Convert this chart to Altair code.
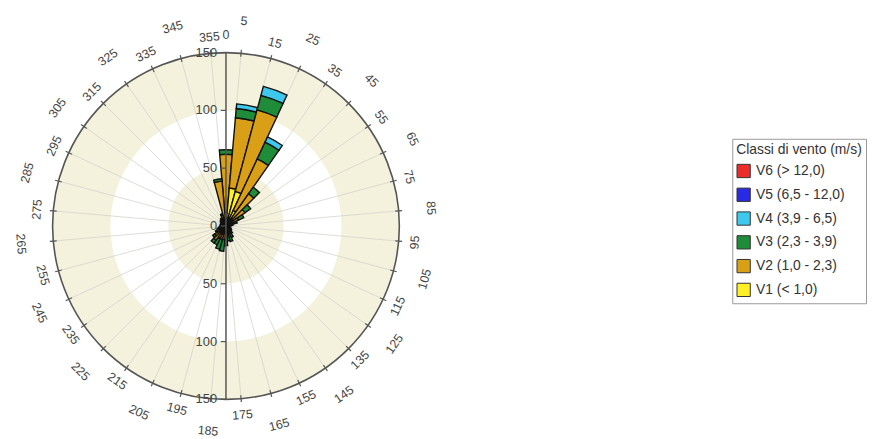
import altair as alt
import pandas as pd

# ---------------- data ----------------
angles = list(range(0, 360, 10))  # sector centres (deg)
v1 = [12, 33, 31, 15, 8, 5, 3, 2, 1, 1, 1, 1, 1, 1, 1, 1, 2, 2,
      3, 4, 4, 4, 5, 4, 3, 3, 2, 2, 2, 2, 2, 2, 3, 3, 4, 6]
v2 = [50, 61, 73, 49, 26, 15, 9, 5, 3, 2, 2, 2, 2, 3, 3, 4, 5, 5,
      6, 8, 8, 8, 10, 8, 6, 4, 3, 3, 3, 3, 3, 4, 4, 5, 6, 33]
v3 = [4, 8, 13, 16, 7, 6, 5, 3, 2, 1, 1, 1, 2, 2, 4, 6, 7, 6,
      8, 10, 9, 6, 3, 2, 1, 1, 1, 0, 0, 0, 0, 0, 0, 0, 1, 2]
v4 = [0, 4, 8, 5, 0, 0, 0, 0, 0, 0, 0, 0, 0, 0, 0, 0, 0, 0,
      0, 0, 0, 0, 0, 0, 0, 0, 0, 0, 0, 0, 0, 0, 0, 0, 0, 0]
v5 = [0] * 36
v6 = [0] * 36

class_labels = ["V6 (> 12,0)", "V5 (6,5 - 12,0)", "V4 (3,9 - 6,5)",
                "V3 (2,3 - 3,9)", "V2 (1,0 - 2,3)", "V1 (< 1,0)"]
class_colors = ["#ee2b2b", "#2a2ae6", "#3ec8ee", "#1f8c3a", "#d9a017", "#fff026"]
legend_title = "Classi di vento (m/s)"

tick_angles = list(range(5, 360, 10))
radial_values = [150, 100, 50, 0, -50, -100, -150]
radial_labels = ["150", "100", "50", "0", "50", "100", "150"]
band_inner = [0, 50, 100]
band_outer = [50, 100, 150]
band_colors = ["#f4f1dc", "#ffffff", "#f4f1dc"]

# ---------------- tables ----------------
series = [v1, v2, v3, v4, v5, v6]
series_names = class_labels[::-1]  # V1 .. V6 (bottom-up)
rows = []
for i, a in enumerate(angles):
    cum = 0
    for name, vals in zip(series_names, series):
        v = vals[i]
        if v > 0:
            rows.append(dict(t0=a - 5, t1=a + 5, r0=cum, r1=cum + v, cls=name))
        cum += v
bars = pd.DataFrame(rows)

bands = pd.DataFrame(dict(t0=[0] * 3, t1=[360] * 3, r0=band_inner,
                          r1=band_outer, col=band_colors))
ticks = pd.DataFrame(dict(a=tick_angles, lab=[str(a) for a in tick_angles]))
zero_lab = pd.DataFrame(dict(a=[0], lab=["0"]))
radial = pd.DataFrame(dict(v=radial_values, lab=radial_labels))
circle = pd.DataFrame(dict(t0=[0], t1=[360], r=[150]))

W = 350
theta_scale = alt.Scale(type="linear", domain=[0, 360], range=[0, 6.283185307179586])
r_scale = alt.Scale(type="linear", domain=[0, 150], range=[0, 175], zero=True, nice=False)
x_scale = alt.Scale(domain=[-150, 150], nice=False, zero=False)
y_scale = alt.Scale(domain=[-150, 150], nice=False, zero=False)

band_layer = alt.Chart(bands).mark_arc(stroke=None).encode(
    theta=alt.Theta("t0:Q", scale=theta_scale),
    theta2="t1:Q",
    radius=alt.Radius("r1:Q", scale=r_scale),
    radius2="r0:Q",
    fill=alt.Fill("col:N", scale=None),
)

spokes = alt.Chart(ticks).transform_calculate(
    x2="150*sin(datum.a*PI/180)", y2="150*cos(datum.a*PI/180)", z="0"
).mark_rule(color="#d4d4cc", strokeWidth=1, opacity=0.8).encode(
    x=alt.X("z:Q", scale=x_scale, axis=None),
    y=alt.Y("z:Q", scale=y_scale, axis=None),
    x2="x2:Q", y2="y2:Q",
)

outer_ticks = alt.Chart(ticks).transform_calculate(
    x1="147*sin(datum.a*PI/180)", y1="147*cos(datum.a*PI/180)",
    x2="153*sin(datum.a*PI/180)", y2="153*cos(datum.a*PI/180)",
).mark_rule(color="#555555", strokeWidth=1.2).encode(
    x=alt.X("x1:Q", scale=x_scale, axis=None),
    y=alt.Y("y1:Q", scale=y_scale, axis=None),
    x2="x2:Q", y2="y2:Q",
)

outer_circle = alt.Chart(circle).mark_arc(
    fillOpacity=0, stroke="#555555", strokeWidth=1.6
).encode(
    theta=alt.Theta("t0:Q", scale=theta_scale),
    theta2="t1:Q",
    radius=alt.Radius("r:Q", scale=r_scale),
)

bar_layer = alt.Chart(bars).mark_arc(stroke="#111111", strokeWidth=1.4).encode(
    theta=alt.Theta("t0:Q", scale=theta_scale),
    theta2="t1:Q",
    radius=alt.Radius("r1:Q", scale=r_scale),
    radius2="r0:Q",
    color=alt.Color(
        "cls:N",
        scale=alt.Scale(domain=class_labels, range=class_colors),
        legend=alt.Legend(
            title=legend_title, orient="none", legendX=686, legendY=87,
            symbolType="square", symbolSize=180, symbolStrokeColor="#333333",
            symbolStrokeWidth=1, rowPadding=5, padding=4, titlePadding=7,
            strokeColor="#999999", fillColor="#ffffff",
            titleFont="Liberation Sans", titleFontSize=14, titleFontWeight="normal",
            titleColor="#333333", labelFont="Liberation Sans", labelFontSize=14,
            labelColor="#333333", labelOffset=5, labelLimit=300,
        ),
    ),
)

vline = alt.Chart(pd.DataFrame(dict(y1=[-150], y2=[150], z=[0]))).mark_rule(
    color="#555555", strokeWidth=1.5
).encode(
    x=alt.X("z:Q", scale=x_scale, axis=None),
    y=alt.Y("y1:Q", scale=y_scale, axis=None),
    y2="y2:Q",
)

rticks = alt.Chart(radial).transform_calculate(xa="-4.5", xb="0").mark_rule(
    color="#555555", strokeWidth=1.2
).encode(
    x=alt.X("xa:Q", scale=x_scale, axis=None),
    x2="xb:Q",
    y=alt.Y("v:Q", scale=y_scale, axis=None),
)

rlabels = alt.Chart(radial).transform_calculate(z="0").mark_text(
    align="right", baseline="middle", dx=-9, font="Liberation Sans",
    fontSize=13, color="#444444"
).encode(
    x=alt.X("z:Q", scale=x_scale, axis=None),
    y=alt.Y("v:Q", scale=y_scale, axis=None),
    text="lab:N",
)

dir_labels = alt.Chart(ticks).transform_calculate(
    r="((datum.a - 5) / 10) % 2 == 0 ? 178 : 164",
).transform_calculate(
    x="datum.r*sin(datum.a*PI/180)", y="datum.r*cos(datum.a*PI/180)",
    rot="(datum.a > 90 && datum.a < 270) ? datum.a - 180 + 360 : datum.a",
).mark_text(
    align="center", baseline="middle", font="Liberation Sans", fontSize=12.5,
    color="#444444"
).encode(
    x=alt.X("x:Q", scale=x_scale, axis=None),
    y=alt.Y("y:Q", scale=y_scale, axis=None),
    text="lab:N",
    angle=alt.Angle("rot:Q", scale=None),
)

zero_label = alt.Chart(zero_lab).transform_calculate(
    x="0", y="165"
).mark_text(
    align="center", baseline="middle", font="Liberation Sans", fontSize=12.5,
    color="#444444"
).encode(
    x=alt.X("x:Q", scale=x_scale, axis=None),
    y=alt.Y("y:Q", scale=y_scale, axis=None),
    text="lab:N",
)

chart = alt.layer(
    band_layer, spokes, outer_circle, outer_ticks, bar_layer, vline, rticks,
    rlabels, dir_labels, zero_label,
).properties(
    width=W, height=W,
    autosize=alt.AutoSizeParams(type="none"),
    padding={"left": 45, "top": 43, "right": 472, "bottom": 38},
).configure(
    background="#ffffff",
    view=alt.ViewConfig(stroke=None),
)

chart.save("out.html", embed_options={"renderer": "svg", "actions": False})
